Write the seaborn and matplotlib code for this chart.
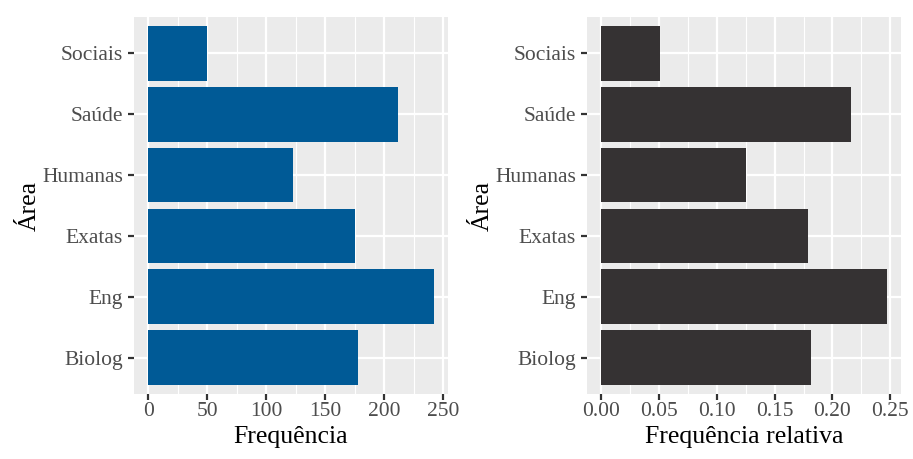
import matplotlib
matplotlib.use("Agg")
import matplotlib.pyplot as plt
import seaborn as sns
import pandas as pd
import numpy as np
from matplotlib.ticker import MultipleLocator

areas = ["Sociais", "Saúde", "Humanas", "Exatas", "Eng", "Biolog"]
freq = [50, 212, 123, 175, 242, 178]
freq_rel = [0.051, 0.216, 0.1255, 0.1786, 0.247, 0.1816]

sns.set_theme(style="darkgrid")
plt.rcParams['font.family'] = ['Liberation Serif', 'DejaVu Serif']

df = pd.DataFrame({"Área": areas, "Frequência": freq, "Frequência relativa": freq_rel})

fig = plt.figure(figsize=(9.13, 4.59), dpi=100)
fig.patch.set_facecolor("white")
ax1 = fig.add_axes([134/913, 1-394/459, 314/913, 377/459])
ax2 = fig.add_axes([587/913, 1-394/459, 314/913, 377/459])

def style(ax, xcol, color, major, minor, fmt):
    sns.barplot(data=df, x=xcol, y="Área", order=areas, color=color, width=0.9,
                orient="h", ax=ax, saturation=1, edgecolor=color, linewidth=0)
    ax.set_facecolor("#EBEBEB")
    vmax = df[xcol].max()
    ax.set_xlim(-0.05*vmax, 1.05*vmax)
    ax.set_ylim(5.6, -0.6)
    ax.xaxis.set_major_locator(MultipleLocator(major))
    ax.xaxis.set_minor_locator(MultipleLocator(minor))
    ax.xaxis.set_major_formatter(matplotlib.ticker.FuncFormatter(fmt))
    ax.grid(True, which="major", color="white", linewidth=1.6)
    ax.grid(True, which="minor", axis="x", color="white", linewidth=0.8)
    ax.set_axisbelow(True)
    for s in ax.spines.values():
        s.set_visible(False)
    ax.tick_params(axis="both", which="major", length=4, width=1.6, color="#333333",
                   labelsize=15.5, labelcolor="#4D4D4D", bottom=True, left=True)
    ax.tick_params(axis="y", which="major", pad=4)
    ax.tick_params(axis="x", which="major", pad=2)
    ax.tick_params(axis="x", which="minor", length=0)
    ax.set_xlabel(xcol, fontsize=18.5, color="black", labelpad=3)
    ax.set_ylabel("Área", fontsize=18.5, color="black", labelpad=1)

style(ax1, "Frequência", "#005A96", 50, 25, lambda v, p: f"{v:.0f}")
style(ax2, "Frequência relativa", "#353233", 0.05, 0.025, lambda v, p: f"{v:.2f}")

fig.savefig("out.png", dpi=100, facecolor="white")
